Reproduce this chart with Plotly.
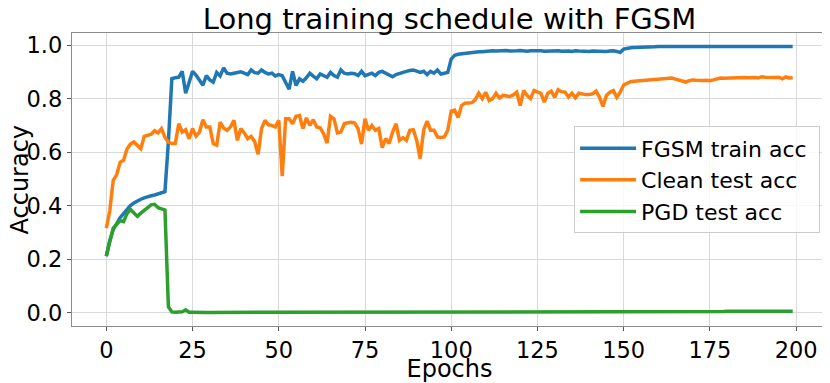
import plotly.graph_objects as go

# Epoch index
epochs = list(range(200))

# FGSM train accuracy
fgsm_train_acc = [
    0.21, 0.27, 0.31, 0.335, 0.355, 0.37, 0.387, 0.40, 0.41, 0.418,
    0.424, 0.429, 0.434, 0.437, 0.44, 0.443, 0.446, 0.452, 0.64, 0.875,
    0.878, 0.88, 0.902, 0.82, 0.86, 0.902, 0.888, 0.87, 0.85, 0.886,
    0.87, 0.862, 0.898, 0.885, 0.915, 0.895, 0.892, 0.895, 0.898, 0.9,
    0.895, 0.89, 0.907, 0.897, 0.895, 0.907, 0.898, 0.892, 0.895, 0.885,
    0.89, 0.886, 0.86, 0.835, 0.902, 0.849, 0.874, 0.865, 0.878, 0.895,
    0.884, 0.874, 0.892, 0.885, 0.88, 0.898, 0.886, 0.88, 0.907, 0.895,
    0.892, 0.895, 0.893, 0.886, 0.902, 0.886, 0.89, 0.895, 0.886, 0.898,
    0.902, 0.895, 0.888, 0.882, 0.89, 0.895, 0.898, 0.902, 0.905, 0.907,
    0.903, 0.898, 0.902, 0.89, 0.902, 0.895, 0.907, 0.892, 0.895, 0.898,
    0.948, 0.962, 0.966, 0.968, 0.97, 0.972, 0.973, 0.974, 0.975, 0.975,
    0.977, 0.978, 0.979, 0.978, 0.979, 0.978, 0.98, 0.978, 0.977, 0.979,
    0.98, 0.978, 0.977, 0.979, 0.98, 0.981, 0.979, 0.977, 0.978, 0.976,
    0.978, 0.979, 0.977, 0.979, 0.978, 0.976, 0.979, 0.978, 0.977, 0.979,
    0.976, 0.978, 0.977, 0.979, 0.977, 0.976, 0.978, 0.979, 0.976, 0.973,
    0.985, 0.989, 0.99, 0.991, 0.991, 0.992, 0.993, 0.994, 0.994, 0.994,
    0.995, 0.995, 0.994, 0.995, 0.995, 0.996, 0.995, 0.994, 0.995, 0.995,
    0.996, 0.995, 0.995, 0.996, 0.995, 0.995, 0.996, 0.996, 0.995, 0.996,
    0.996, 0.995, 0.996, 0.996, 0.996, 0.995, 0.996, 0.996, 0.997, 0.996,
    0.996, 0.997, 0.996, 0.996, 0.997, 0.996, 0.996, 0.997, 0.996, 0.995,
]

# Clean test accuracy
clean_test_acc = [
    0.316, 0.38, 0.495, 0.515, 0.562, 0.57, 0.612, 0.63, 0.638, 0.625,
    0.613, 0.659, 0.662, 0.667, 0.68, 0.672, 0.688, 0.655, 0.638, 0.632,
    0.633, 0.706, 0.675, 0.684, 0.65, 0.688, 0.66, 0.675, 0.721, 0.694,
    0.694, 0.632, 0.626, 0.712, 0.69, 0.682, 0.694, 0.719, 0.644, 0.688,
    0.672, 0.65, 0.659, 0.64, 0.592, 0.688, 0.719, 0.702, 0.7, 0.694,
    0.719, 0.51, 0.725, 0.725, 0.706, 0.734, 0.737, 0.688, 0.728, 0.7,
    0.721, 0.694, 0.691, 0.669, 0.634, 0.734, 0.725, 0.672, 0.675, 0.706,
    0.71, 0.712, 0.709, 0.688, 0.63, 0.725, 0.682, 0.7, 0.682, 0.688,
    0.617, 0.651, 0.632, 0.675, 0.706, 0.644, 0.654, 0.644, 0.682, 0.684,
    0.644, 0.576, 0.682, 0.716, 0.682, 0.682, 0.657, 0.655, 0.657, 0.682,
    0.753, 0.757, 0.729, 0.774, 0.783, 0.783, 0.785, 0.796, 0.82, 0.8,
    0.824, 0.793, 0.8, 0.82, 0.802, 0.812, 0.81, 0.808, 0.814, 0.824,
    0.774, 0.83, 0.812, 0.8, 0.83, 0.825, 0.82, 0.787, 0.82, 0.828,
    0.805, 0.833, 0.826, 0.824, 0.806, 0.82, 0.803, 0.82, 0.816, 0.815,
    0.815, 0.818, 0.828, 0.805, 0.771, 0.812, 0.824, 0.83, 0.805, 0.824,
    0.851, 0.857, 0.863, 0.865, 0.866, 0.867, 0.869, 0.871, 0.87, 0.871,
    0.872, 0.874, 0.874, 0.875, 0.877, 0.873, 0.87, 0.866, 0.862, 0.867,
    0.87, 0.869, 0.867, 0.868, 0.869, 0.867, 0.87, 0.874, 0.877, 0.876,
    0.877, 0.877, 0.876, 0.878, 0.88, 0.879, 0.878, 0.88, 0.879, 0.877,
    0.882, 0.88, 0.879, 0.877, 0.879, 0.88, 0.874, 0.881, 0.877, 0.878,
]

# PGD test accuracy
pgd_test_acc = [
    0.213, 0.26, 0.316, 0.33, 0.344, 0.34, 0.37, 0.386, 0.372, 0.36,
    0.372, 0.383, 0.39, 0.403, 0.405, 0.392, 0.388, 0.384, 0.022, 0.003,
    0.002, 0.002, 0.003, 0.011, 0.002, 0.002, 0.001, 0.001, 0.001, 0.001,
    0.001, 0.001, 0.001, 0.001, 0.001, 0.001, 0.001, 0.001, 0.001, 0.001,
    0.001, 0.001, 0.001, 0.001, 0.001, 0.001, 0.001, 0.001, 0.001, 0.001,
    0.001, 0.001, 0.001, 0.002, 0.002, 0.004, 0.002, 0.002, 0.003, 0.002,
    0.002, 0.002, 0.002, 0.003, 0.004, 0.002, 0.002, 0.002, 0.002, 0.002,
    0.002, 0.002, 0.002, 0.002, 0.002, 0.002, 0.002, 0.002, 0.002, 0.002,
    0.002, 0.002, 0.003, 0.002, 0.002, 0.002, 0.002, 0.002, 0.002, 0.002,
    0.002, 0.002, 0.002, 0.002, 0.002, 0.002, 0.003, 0.002, 0.002, 0.002,
    0.002, 0.002, 0.002, 0.003, 0.002, 0.002, 0.003, 0.002, 0.002, 0.002,
    0.003, 0.002, 0.002, 0.003, 0.003, 0.002, 0.002, 0.003, 0.003, 0.003,
    0.002, 0.002, 0.003, 0.003, 0.003, 0.003, 0.002, 0.003, 0.003, 0.003,
    0.003, 0.002, 0.002, 0.002, 0.003, 0.003, 0.002, 0.003, 0.003, 0.003,
    0.003, 0.003, 0.002, 0.003, 0.003, 0.003, 0.003, 0.003, 0.003, 0.003,
    0.003, 0.003, 0.003, 0.004, 0.004, 0.003, 0.003, 0.004, 0.004, 0.004,
    0.004, 0.004, 0.004, 0.004, 0.004, 0.004, 0.004, 0.004, 0.004, 0.004,
    0.004, 0.004, 0.004, 0.004, 0.004, 0.004, 0.004, 0.004, 0.004, 0.004,
    0.005, 0.004, 0.005, 0.005, 0.005, 0.005, 0.005, 0.005, 0.005, 0.005,
    0.005, 0.005, 0.005, 0.005, 0.006, 0.006, 0.006, 0.007, 0.006, 0.005,
]

series_names = ['FGSM train acc', 'Clean test acc', 'PGD test acc']
series_colors = ['#1f77b4', '#ff7f0e', '#2ca02c']

FONT = 'DejaVu Sans, Liberation Sans, sans-serif'

fig = go.Figure()
for name, vals, col in zip(series_names,
                           [fgsm_train_acc, clean_test_acc, pgd_test_acc],
                           series_colors):
    fig.add_trace(go.Scatter(
        x=epochs, y=vals, mode='lines', name=name + '\u00a0',
        line=dict(color=col, width=3.5),
    ))

axis_style = dict(
    showgrid=True, gridcolor='#d9d9d9', gridwidth=1,
    showline=True, linecolor='#8c8c8c', linewidth=1.3, mirror=True,
    ticks='outside', ticklen=4, tickcolor='#555555', tickwidth=1,
    zeroline=False, automargin=False,
    tickfont=dict(size=22.5, color='black', family=FONT),
)

# page body has an 8px margin, so the figure is a bit smaller than the window
fig.update_layout(
    width=822, height=375,
    margin=dict(l=64, r=3, t=25, b=57),
    paper_bgcolor='white', plot_bgcolor='white',
    font=dict(family=FONT, color='black'),
    title=dict(text='Long training schedule with FGSM', x=0.5, xref='paper',
               y=0.997, yref='container', yanchor='top', automargin=False,
               font=dict(size=29, color='black', family=FONT)),
    legend=dict(x=0.665, y=0.681, xanchor='left', yanchor='top',
                bgcolor='rgba(255,255,255,0.8)', bordercolor='#cccccc',
                borderwidth=1, font=dict(size=22, color='black', family=FONT),
                itemwidth=56, tracegroupgap=0),
    showlegend=True,
)

# y axis title as a rotated annotation so it can sit close to the page edge
fig.add_annotation(
    text='Accuracy', textangle=-90, showarrow=False,
    xref='paper', x=0, xanchor='center', xshift=-53,
    yref='paper', y=0.5, yanchor='middle',
    font=dict(size=24, color='black', family=FONT),
)

fig.update_xaxes(range=[-9.95, 208.95], tickvals=[0, 25, 50, 75, 100, 125, 150, 175, 200],
                 title=dict(text='Epochs', font=dict(size=24, family=FONT), standoff=0),
                 **axis_style)
fig.update_yaxes(range=[-0.0498, 1.0453], tickvals=[0, 0.2, 0.4, 0.6, 0.8, 1.0],
                 tickformat='.1f', **axis_style)

fig.write_html("out.html")
